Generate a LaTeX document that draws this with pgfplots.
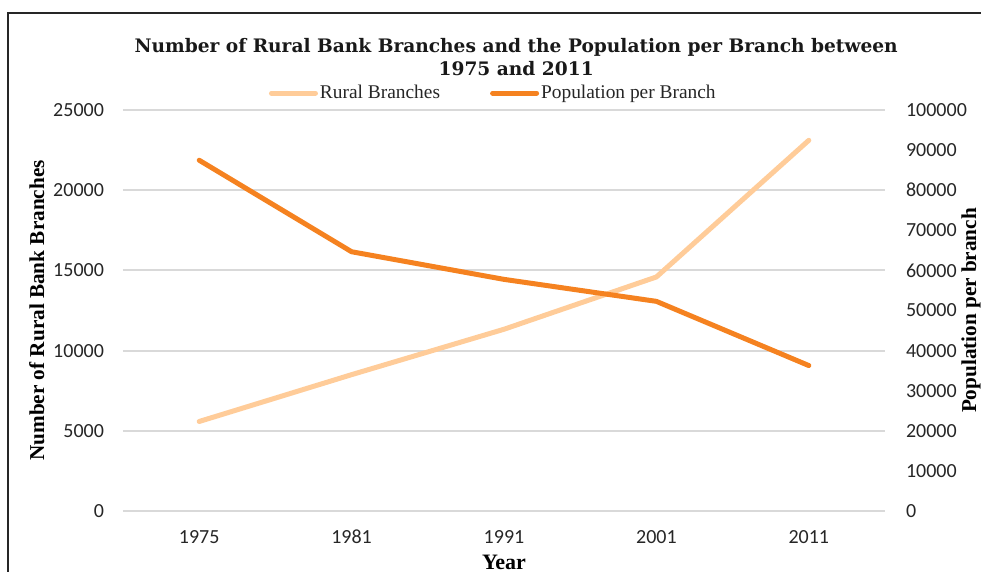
\documentclass[border=0pt]{standalone}
\usepackage{fontspec}
\setmainfont{Liberation Serif}
\newfontfamily\carlito{Carlito}
\newfontfamily\titlefont{DejaVu Serif}
\usepackage{pgfplots}
\pgfplotsset{compat=1.18}
\definecolor{lightor}{HTML}{FFCC99}
\definecolor{darkor}{HTML}{F58220}
\definecolor{gridc}{HTML}{D9D9D9}
\begin{document}
\begin{tikzpicture}[x=1pt,y=1pt]
\clip (-61.5,-30.5) rectangle (429,255.5);
\draw[line width=1pt, black!85] (-57.5,-80) rectangle (480,249);
\pgfplotsset{
  common/.style={
    at={(0,0)}, anchor=south west,
    scale only axis, width=381pt, height=200.5pt,
    xmin=-0.5, xmax=4.5,
    axis line style={draw=none},
    major tick length=0pt,
    scaled y ticks=false,
    /pgf/number format/fixed,
    /pgf/number format/precision=0,
    /pgf/number format/assume math mode=true,
    /pgf/number format/set thousands separator={},
    ticklabel style={font=\carlito\fontsize{10}{12}\selectfont, text=black!85},
  }
}
\begin{axis}[common,
  ymin=0, ymax=25000,
  xtick={0,1,2,3,4}, xticklabels={1975,1981,1991,2001,2011},
  xticklabel style={yshift=-6pt},
  ytick={0,5000,10000,15000,20000,25000},
  yticklabel style={xshift=-6pt},
  ymajorgrids, grid style={line width=1pt, color=gridc},
  xlabel={Year},
  xlabel style={at={(axis description cs:0.5,-0.127)}, anchor=center, font=\bfseries\fontsize{11}{13}\selectfont},
  ylabel={Number of Rural Bank Branches},
  ylabel style={at={(axis description cs:-0.113,0.5)}, anchor=center, font=\bfseries\fontsize{10.6}{12}\selectfont},
  title={Number of Rural Bank Branches and the Population per Branch between\\1975 and 2011},
  title style={at={(axis description cs:0.516,1.103)}, anchor=center, align=center, font=\titlefont\bfseries\fontsize{9.3}{11.5}\selectfont, text=black!90},
]
\addplot[lightor, line width=2.5pt, line cap=round, line join=round] coordinates {
(0,5580) (1,8500) (2,11330) (3,14590) (4,23110)};
\end{axis}
\begin{axis}[common,
  ymin=0, ymax=100000,
  axis y line*=right, axis x line=none,
  ytick={0,10000,20000,30000,40000,50000,60000,70000,80000,90000,100000},
  yticklabel style={xshift=7pt},
  ylabel={Population per branch},
  ylabel style={at={(axis description cs:1.113,0.5)}, anchor=center, font=\bfseries\fontsize{10.6}{12}\selectfont},
  legend style={at={(axis description cs:0.486,1.042)}, anchor=center, draw=none, fill=none,
    legend columns=2, font=\fontsize{9.7}{11}\selectfont, text=black!85,
    /tikz/every even column/.append style={column sep=24pt},
    nodes={inner sep=1pt}},
  legend image code/.code={\draw[#1, line cap=round] (0pt,0pt) -- (22pt,0pt);},
]
\addlegendimage{lightor, line width=2.5pt}
\addlegendentry{Rural Branches}
\addplot[darkor, line width=2.5pt, line cap=round, line join=round] coordinates {
(0,87470) (1,64650) (2,57760) (3,52280) (4,36270)};
\addlegendentry{Population per Branch}
\end{axis}
\end{tikzpicture}
\end{document}
